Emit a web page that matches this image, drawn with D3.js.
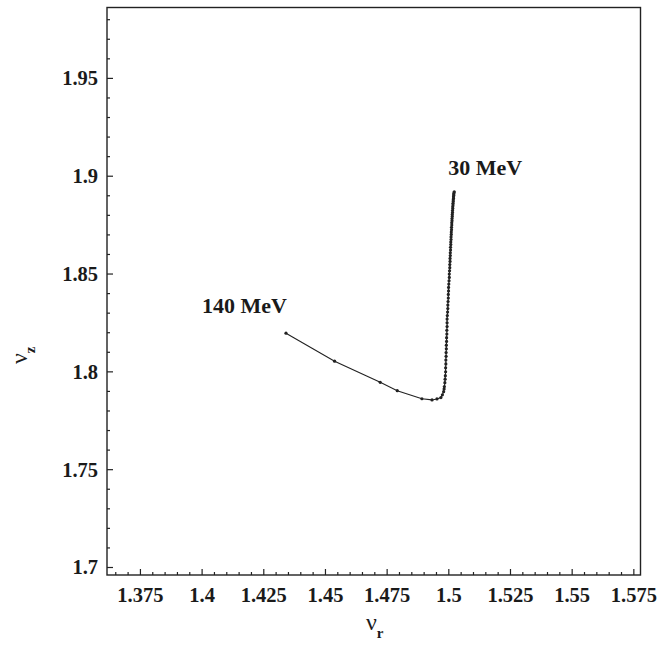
<!DOCTYPE html>
<html>
<head>
<meta charset="utf-8">
<script src="https://cdn.jsdelivr.net/npm/d3@7"></script>
<style>
  body { margin: 0; background: #fff; }
  text { font-family: "Liberation Serif", "Times New Roman", serif; font-weight: bold; fill: #1a1a1a; }
</style>
</head>
<body>
<div id="chart"></div>
<script>
// tune values nu_r / nu_z along the energy scan (140 MeV -> 30 MeV)
var nuR = [1.4342, 1.4539, 1.4724, 1.4793, 1.4893, 1.4934, 1.4954, 1.4970,
  1.4976, 1.4981, 1.4983, 1.4984, 1.4986, 1.4987, 1.4988, 1.4989, 1.4989, 1.4990,
  1.4990, 1.4991, 1.4991, 1.4992, 1.4992, 1.4993, 1.4993, 1.4994, 1.4994, 1.4995,
  1.4995, 1.4995, 1.4996, 1.4997, 1.4998, 1.4998, 1.4999, 1.5000, 1.5000, 1.5001,
  1.5001, 1.5002, 1.5003, 1.5004, 1.5004, 1.5005, 1.5006, 1.5006, 1.5007, 1.5007,
  1.5008, 1.5008, 1.5009, 1.5009, 1.5010, 1.5010, 1.5011, 1.5011, 1.5012, 1.5012,
  1.5013, 1.5013, 1.5014, 1.5014, 1.5015, 1.5015, 1.5016, 1.5016, 1.5017, 1.5017,
  1.5018, 1.5018, 1.5019, 1.5019, 1.5020, 1.5020, 1.5021, 1.5021, 1.5022, 1.5022,
  1.5023, 1.5024];
var nuZ = [1.8195, 1.8052, 1.7944, 1.7901, 1.7860, 1.7854, 1.7859, 1.7866,
  1.7880, 1.7896, 1.7910, 1.7922, 1.7942, 1.7960, 1.7978, 1.7998, 1.8018, 1.8038,
  1.8058, 1.8077, 1.8096, 1.8115, 1.8134, 1.8153, 1.8172, 1.8191, 1.8210, 1.8229,
  1.8248, 1.8267, 1.8285, 1.8303, 1.8321, 1.8339, 1.8357, 1.8375, 1.8393, 1.8411,
  1.8429, 1.8446, 1.8463, 1.8480, 1.8497, 1.8514, 1.8530, 1.8546, 1.8562, 1.8577,
  1.8592, 1.8606, 1.8620, 1.8634, 1.8648, 1.8661, 1.8674, 1.8687, 1.8700, 1.8712,
  1.8724, 1.8736, 1.8748, 1.8759, 1.8770, 1.8781, 1.8792, 1.8802, 1.8812, 1.8822,
  1.8832, 1.8841, 1.8850, 1.8859, 1.8868, 1.8876, 1.8884, 1.8892, 1.8899, 1.8906,
  1.8912, 1.8918];

var xTicks = [1.375, 1.4, 1.425, 1.45, 1.475, 1.5, 1.525, 1.55, 1.575];
var xTickLabels = ["1.375", "1.4", "1.425", "1.45", "1.475", "1.5", "1.525", "1.55", "1.575"];
var yTicks = [1.7, 1.75, 1.8, 1.85, 1.9, 1.95];
var yTickLabels = ["1.7", "1.75", "1.8", "1.85", "1.9", "1.95"];
var xMinor = [1.365, 1.37, 1.38, 1.385, 1.39, 1.395, 1.405, 1.41, 1.415, 1.42, 1.43, 1.435,
  1.44, 1.445, 1.455, 1.46, 1.465, 1.47, 1.48, 1.485, 1.49, 1.495, 1.505, 1.51, 1.515,
  1.52, 1.53, 1.535, 1.54, 1.545, 1.555, 1.56, 1.565, 1.57];
var yMinor = [1.71, 1.72, 1.73, 1.74, 1.76, 1.77, 1.78, 1.79, 1.81, 1.82, 1.83, 1.84,
  1.86, 1.87, 1.88, 1.89, 1.91, 1.92, 1.93, 1.94, 1.96, 1.97, 1.98];
var labelStart = "140 MeV", labelEnd = "30 MeV";

var W = 670, H = 646;
var m = { left: 107, right: 640.5, top: 7.5, bottom: 575 };

var svg = d3.select("#chart").append("svg")
    .attr("width", W).attr("height", H);

var x = d3.scaleLinear().domain([1.36165, 1.5779]).range([m.left, m.right]);
var y = d3.scaleLinear().domain([1.69591, 1.98598]).range([m.bottom, m.top]);

// frame
svg.append("rect")
    .attr("x", m.left).attr("y", m.top)
    .attr("width", m.right - m.left).attr("height", m.bottom - m.top)
    .attr("fill", "none").attr("stroke", "#222").attr("stroke-width", 1.4);

// x axis (ticks inward)
var xAxis = svg.append("g").attr("transform", "translate(0," + m.bottom + ")");
xAxis.call(d3.axisBottom(x).tickValues(xTicks).tickSize(-6)
    .tickFormat(function(d, i) { return xTickLabels[i]; }));
xAxis.append("g").call(d3.axisBottom(x).tickValues(xMinor).tickSize(-3).tickFormat(""));
xAxis.selectAll(".domain").remove();
xAxis.selectAll("line").attr("stroke", "#222").attr("stroke-width", 1.2);
xAxis.selectAll("text").attr("y", 27).attr("dy", null)
    .style("font-size", "20.5px").style("font-family", "Liberation Serif").style("font-weight", "bold")
    .attr("fill", "#1a1a1a");

// y axis (ticks inward)
var yAxis = svg.append("g").attr("transform", "translate(" + m.left + ",0)");
yAxis.call(d3.axisLeft(y).tickValues(yTicks).tickSize(-6)
    .tickFormat(function(d, i) { return yTickLabels[i]; }));
yAxis.append("g").call(d3.axisLeft(y).tickValues(yMinor).tickSize(-3).tickFormat(""));
yAxis.selectAll(".domain").remove();
yAxis.selectAll("line").attr("stroke", "#222").attr("stroke-width", 1.2);
yAxis.selectAll("text").attr("x", -9).attr("dy", "0.34em")
    .style("font-size", "20.5px").style("font-family", "Liberation Serif").style("font-weight", "bold")
    .attr("fill", "#1a1a1a");

// curve
var pts = nuR.map(function(d, i) { return [d, nuZ[i]]; });
var line = d3.line().x(function(d) { return x(d[0]); }).y(function(d) { return y(d[1]); });

svg.append("path").datum(pts)
    .attr("d", line)
    .attr("fill", "none").attr("stroke", "#222").attr("stroke-width", 1.1);

svg.selectAll(".pt").data(pts).enter().append("circle")
    .attr("class", "pt")
    .attr("cx", function(d) { return x(d[0]); })
    .attr("cy", function(d) { return y(d[1]); })
    .attr("r", 1.6)
    .attr("fill", "#222");

// energy labels
var p0 = pts[0], pN = pts[pts.length - 1];
svg.append("text")
    .attr("x", x(p0[0]) + 1).attr("y", y(p0[1]) - 20)
    .attr("text-anchor", "end").style("font-size", "22px")
    .text(labelStart);
svg.append("text")
    .attr("x", x(pN[0]) - 6).attr("y", y(pN[1]) - 17)
    .attr("text-anchor", "start").style("font-size", "22px")
    .text(labelEnd);

// axis titles
var xt = svg.append("text").attr("x", 366).attr("y", 630).style("font-size", "24px");
xt.append("tspan").text("\u03bd").style("font-weight", "normal");
xt.append("tspan").attr("dy", 8).style("font-size", "15px").text("r");

var yt = svg.append("text").attr("transform", "translate(27,364) rotate(-90)").style("font-size", "24px");
yt.append("tspan").text("\u03bd").style("font-weight", "normal");
yt.append("tspan").attr("dy", 8).style("font-size", "15px").text("z");
</script>
</body>
</html>
